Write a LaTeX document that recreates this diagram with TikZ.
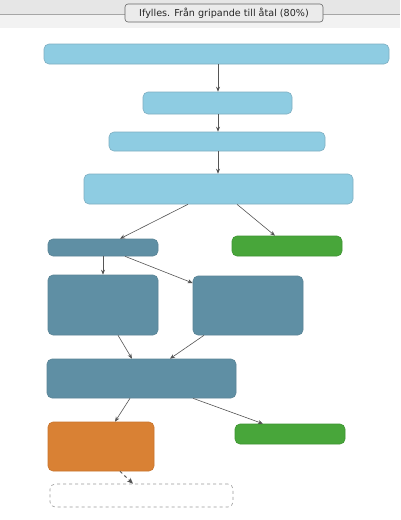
\documentclass[tikz,border=0pt]{standalone}
\usepackage{fontspec}
\setmainfont{DejaVu Sans}
\usetikzlibrary{arrows.meta}
\definecolor{lblue}{HTML}{8ECCE2}
\definecolor{lblueb}{HTML}{7FAFC2}
\definecolor{teal}{HTML}{5F8FA4}
\definecolor{tealb}{HTML}{5A8496}
\definecolor{grn}{HTML}{48A63A}
\definecolor{grnb}{HTML}{3E9432}
\definecolor{orng}{HTML}{D98134}
\definecolor{orngb}{HTML}{C8742C}
\definecolor{hdr}{HTML}{E6E6E6}
\definecolor{hdrl}{HTML}{F2F2F2}
\definecolor{btnf}{HTML}{EBEBEB}
\definecolor{arr}{HTML}{555555}
\tikzset{
  box/.style={rectangle, rounded corners=5pt, inner sep=0pt, line width=0.6pt},
  lb/.style={box, fill=lblue, draw=lblueb},
  tb/.style={box, fill=teal, draw=tealb},
  gb/.style={box, fill=grn, draw=grnb},
  ob/.style={box, fill=orng, draw=orngb},
  db/.style={box, fill=white, draw=gray!80, dashed},
  conn/.style={draw=arr, line width=0.6pt, -{Stealth[length=5pt,width=4pt]}},
  dconn/.style={draw=arr, line width=1pt, dashed, -{Stealth[length=6pt,width=5pt]}},
  btn/.style={rectangle, rounded corners=3pt, fill=btnf, draw=gray!80!black, line width=0.6pt, inner sep=0pt, font=\fontsize{9.6}{12}\selectfont, text=black!85}
}
\begin{document}
\begin{tikzpicture}[x=1pt,y=-1pt]
\useasboundingbox (0,0) rectangle (400,520);
\fill[white] (0,0) rectangle (400,520);
% header
\fill[hdr] (0,0) rectangle (400,14);
\fill[hdrl] (0,14) rectangle (400,28);
\draw[gray!70, line width=0.6pt] (0,14) -- (400,14);
\node[btn, minimum width=198pt, minimum height=18pt] (title) at (224,13) {Ifylles. Från gripande till åtal (80\%)};
% boxes
\node[lb, minimum width=345pt, minimum height=20pt] (b1) at (216.5,54) {};
\node[lb, minimum width=149pt, minimum height=22pt] (b2) at (217.5,103) {};
\node[lb, minimum width=216pt, minimum height=19pt] (b3) at (217,141.5) {};
\node[lb, minimum width=269pt, minimum height=30pt] (b4) at (218.5,189) {};
\node[tb, minimum width=110pt, minimum height=17pt] (b5) at (103,247.5) {};
\node[gb, minimum width=110pt, minimum height=20pt] (g1) at (287,246) {};
\node[tb, minimum width=110pt, minimum height=60pt] (b6) at (103,305) {};
\node[tb, minimum width=110pt, minimum height=59pt] (b7) at (248,305.5) {};
\node[tb, minimum width=189pt, minimum height=39pt] (b8) at (141.5,378.5) {};
\node[ob, minimum width=106pt, minimum height=49pt] (o1) at (101,446.5) {};
\node[gb, minimum width=110pt, minimum height=20pt] (g2) at (290,434) {};
\node[db, minimum width=183pt, minimum height=23pt] (d1) at (141.5,495.5) {};
% connectors
\draw[conn] (b1.south -| 218,0) -- (b2.north -| 218,0);
\draw[conn] (b2.south -| 218,0) -- (b3.north -| 218,0);
\draw[conn] (b3.south -| 218,0) -- (b4.north -| 218,0);
\draw[conn] (b4.south -| 188,0) -- (b5.north -| 120,0);
\draw[conn] (b4.south -| 237,0) -- (g1.north -| 275,0);
\draw[conn] (b5.south -| 103,0) -- (b6.north -| 103,0);
\draw[conn] (b5.south -| 125,0) -- (b7.west |- 0,283);
\draw[conn] (b6.south -| 118,0) -- (b8.north -| 132,0);
\draw[conn] (b7.south -| 204,0) -- (b8.north -| 170,0);
\draw[conn] (b8.south -| 130,0) -- (o1.north -| 115,0);
\draw[conn] (b8.south -| 193,0) -- (g2.north -| 263,0);
\draw[dconn] (o1.south -| 120,0) -- (d1.north -| 133,0);
\end{tikzpicture}
\end{document}
